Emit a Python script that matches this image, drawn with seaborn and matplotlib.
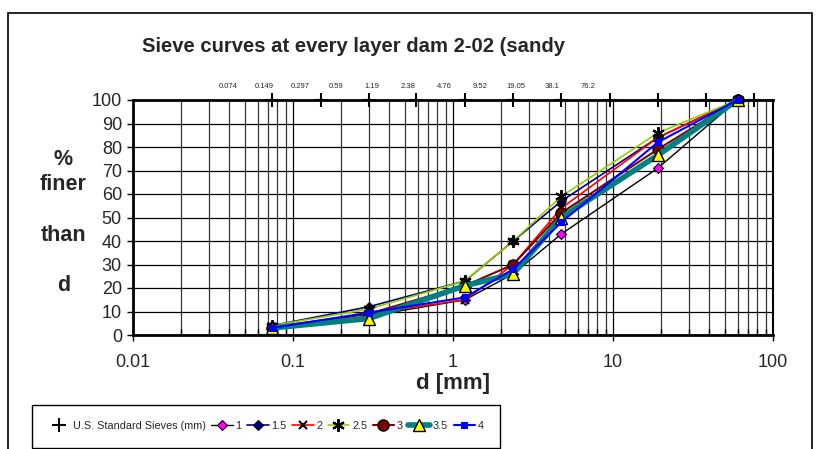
import numpy as np
import pandas as pd
import matplotlib
matplotlib.use("Agg")
import matplotlib.pyplot as plt
import seaborn as sns
from matplotlib.patches import Rectangle
from matplotlib.ticker import LogLocator, FuncFormatter, NullFormatter, FixedLocator

# ---------------- data ----------------
sieve_sizes = [0.074, 0.149, 0.297, 0.59, 1.19, 2.38, 4.76, 9.52, 19.05, 38.1, 76.2]
sieve_labels = ["0.074", "0.149", "0.297", "0.59", "1.19", "2.38", "4.76",
                "9.52", "19.05", "38.1", "76.2"]
sieve_row = [100] * 11

d_mm = [0.074, 0.297, 1.19, 2.38, 4.76, 19.05, 60]
layer_names = ["1", "1.5", "2", "2.5", "3", "3.5", "4"]
layer_1 = [3, 8, 15, 26, 43, 71, 100]
layer_1_5 = [4, 12, 23, 40, 57, 84, 100]
layer_2 = [3.5, 9, 15, 30, 54, 84, 100]
layer_2_5 = [4, 11, 23, 40, 59, 86, 100]
layer_3 = [3, 9, 21, 30, 52, 79, 100]
layer_3_5 = [3, 7, 21, 26, 50, 76.5, 100]
layer_4 = [3, 9.5, 16, 28, 48, 82, 100]
layers = [layer_1, layer_1_5, layer_2, layer_2_5, layer_3, layer_3_5, layer_4]

x_ticks = [0.01, 0.1, 1, 10, 100]
y_ticks = [0, 10, 20, 30, 40, 50, 60, 70, 80, 90, 100]

# ---------------- styles ----------------
styles = [
    dict(color="black", lw=1.0, marker="D", ms=5.5, mfc="#ff00ff", mec="black", mew=0.8),
    dict(color="#000080", lw=1.2, marker="D", ms=5.5, mfc="#000080", mec="black", mew=0.8),
    dict(color="#ff0000", lw=1.2, marker="x", ms=6, mfc="black", mec="black", mew=1.5),
    dict(color="#99cc00", lw=1.2, marker=(6, 2, 0), ms=9, mfc="black", mec="black", mew=1.5),
    dict(color="#800000", lw=1.5, marker="o", ms=8, mfc="#800000", mec="black", mew=1.0),
    dict(color="#008080", lw=4.0, marker="^", ms=8, mfc="#ffff00", mec="black", mew=1.0),
    dict(color="#0000ff", lw=1.5, marker="s", ms=4, mfc="#0000ff", mec="#0000ff", mew=0.8),
]

sns.set_style("white")
plt.rcParams["font.family"] = ["Liberation Sans", "DejaVu Sans"]

W, H = 824, 449
fig = plt.figure(figsize=(W / 100, H / 100), dpi=100)
ax = fig.add_axes([133 / W, 114 / H, 640 / W, 235 / H])

# sieve series: '+' markers along the top
sns.lineplot(x=sieve_sizes, y=sieve_row, ax=ax, color="black", marker="+",
             ms=9.5, mew=1.5, markeredgecolor="black", linestyle="none",
             label="U.S. Standard Sieves (mm)",
             clip_on=False, zorder=5, sort=False, estimator=None)

for name, vals, st in zip(layer_names, layers, styles):
    sns.lineplot(x=d_mm, y=vals, ax=ax, label=name, sort=False, estimator=None,
                 color=st["color"], lw=st["lw"], marker=st["marker"], ms=st["ms"],
                 markerfacecolor=st["mfc"], markeredgecolor=st["mec"], mew=st["mew"],
                 clip_on=False, zorder=3)

ax.set_xscale("log")
ax.set_xlim(0.01, 100)
ax.set_ylim(0, 100)
ax.xaxis.set_major_locator(FixedLocator(x_ticks))
ax.xaxis.set_major_formatter(FuncFormatter(lambda v, p: f"{v:g}"))
ax.xaxis.set_minor_locator(LogLocator(base=10, subs=np.arange(2, 10)))
ax.xaxis.set_minor_formatter(NullFormatter())
ax.set_yticks(y_ticks)

ax.set_axisbelow(True)
ax.grid(which="major", axis="both", color="black", lw=0.9)
ax.grid(which="minor", axis="x", color="#333333", lw=0.9)

for side in ["left", "bottom", "top"]:
    ax.spines[side].set_linewidth(2.0)
    ax.spines[side].set_color("black")
ax.spines["right"].set_linewidth(1.5)
ax.spines["right"].set_color("black")

ax.tick_params(axis="y", which="major", direction="out", length=4, width=1,
               labelsize=13, pad=4, left=True, color="black")
ax.tick_params(axis="x", which="major", direction="out", length=4, width=1,
               labelsize=13, pad=10, bottom=True, color="black")
ax.tick_params(axis="x", which="minor", direction="in", length=4, width=1,
               bottom=True, color="black")

ax.set_xlabel("d [mm]", fontsize=16, fontweight="bold", labelpad=1)
ax.set_ylabel("%\nfiner\n\nthan\n\nd", fontsize=15.5, fontweight="bold",
              rotation=0, ha="center", va="center", linespacing=1.26,
              multialignment="center")
ax.yaxis.set_label_coords(-0.109, 0.478)

# top category axis carrying the sieve labels
ax_top = ax.twiny()
ax_top.set_xlim(-95 / 36, 545 / 36)
ax_top.set_xticks(range(len(sieve_labels)))
ax_top.set_xticklabels(sieve_labels, fontsize=5.5)
ax_top.tick_params(axis="x", length=0, pad=7)
for s in ax_top.spines.values():
    s.set_visible(False)

fig.text(142 / W, 1 - 46 / H, "Sieve curves at every layer dam 2-02 (sandy",
         fontsize=14.6, fontweight="bold", ha="left", va="center")

handles, labels = ax.get_legend_handles_labels()
if ax.legend_:
    ax.legend_.remove()
leg = fig.legend(handles, labels, loc="upper left",
                 bbox_to_anchor=(32 / W, 1 - 405 / H), bbox_transform=fig.transFigure,
                 ncol=8, frameon=True, fancybox=False, edgecolor="black",
                 framealpha=1, handlelength=2.0, handletextpad=0.25,
                 columnspacing=0.5, borderpad=1.5, borderaxespad=0,
                 prop=dict(family=["Liberation Sans"], size=7.8))
leg.get_frame().set_linewidth(1.0)

fig.add_artist(Rectangle((8 / W, -0.05), 804 / W, (H - 13) / H + 0.05,
                         transform=fig.transFigure, fill=False,
                         edgecolor="black", lw=1.2))

fig.savefig("out.png", dpi=100)
